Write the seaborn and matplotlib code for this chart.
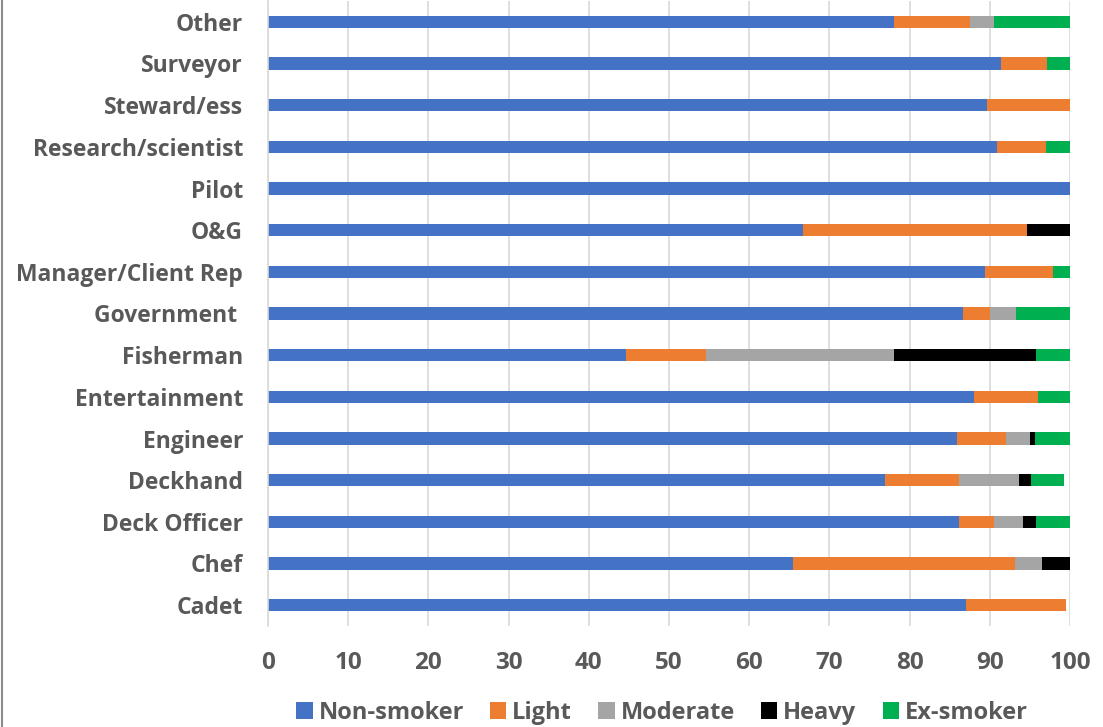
import matplotlib
matplotlib.use("Agg")
import matplotlib.pyplot as plt
from matplotlib.lines import Line2D
from matplotlib.patches import Patch
import numpy as np
import pandas as pd
import seaborn as sns

# Occupations, listed top to bottom
occupations = ["Other", "Surveyor", "Steward/ess", "Research/scientist", "Pilot",
               "O&G", "Manager/Client Rep", "Government ", "Fisherman",
               "Entertainment", "Engineer", "Deckhand", "Deck Officer", "Chef", "Cadet"]

# Smoking status shares (%) per occupation
non_smoker = [78.1, 91.4, 89.6, 90.9, 100.0, 66.7, 89.4, 86.7, 44.6, 88.0, 85.9, 76.9, 86.2, 65.5, 87.0]
light      = [9.4, 5.7, 10.4, 6.1, 0.0, 27.9, 8.5, 3.3, 10.0, 8.0, 6.1, 9.2, 4.3, 27.6, 12.5]
moderate   = [3.0, 0.0, 0.0, 0.0, 0.0, 0.0, 0.0, 3.3, 23.5, 0.0, 3.0, 7.5, 3.6, 3.4, 0.0]
heavy      = [0.0, 0.0, 0.0, 0.0, 0.0, 5.4, 0.0, 0.0, 17.6, 0.0, 0.6, 1.5, 1.7, 3.5, 0.0]
ex_smoker  = [9.5, 2.9, 0.0, 3.0, 0.0, 0.0, 2.1, 6.7, 4.3, 4.0, 4.4, 4.2, 4.2, 0.0, 0.0]

series_names = ["Non-smoker", "Light", "Moderate", "Heavy", "Ex-smoker"]
series_colors = ["#4472C4", "#ED7D31", "#A5A5A5", "#000000", "#00B050"]
x_ticks = [0, 10, 20, 30, 40, 50, 60, 70, 80, 90, 100]

df = pd.DataFrame({"Occupation": occupations,
                   "Non-smoker": non_smoker, "Light": light, "Moderate": moderate,
                   "Heavy": heavy, "Ex-smoker": ex_smoker})
cum = df[series_names].cumsum(axis=1)

sns.set_theme(style="white")
plt.rcParams["font.family"] = ["Open Sans", "DejaVu Sans"]
text_color = "#595959"

fig = plt.figure(figsize=(11.03, 7.27), dpi=100)
ax = fig.add_axes([268 / 1103, 1 - 626 / 727, (1070 - 268) / 1103, 625 / 727])

# Stack by drawing cumulative totals from the last series back to the first
for name, color in reversed(list(zip(series_names, series_colors))):
    sns.barplot(x=cum[name], y=df["Occupation"], orient="h", color=color,
                width=0.3, saturation=1, linewidth=0, ax=ax)

ax.set_xlim(0, 100)
ax.set_xticks(x_ticks)
ax.set_xlabel("")
ax.set_ylabel("")
ax.grid(axis="x", color="#D9D9D9", linewidth=1.2)
ax.set_axisbelow(True)
for side in ["top", "right", "bottom"]:
    ax.spines[side].set_visible(False)
ax.spines["left"].set_color("#D9D9D9")
ax.spines["left"].set_linewidth(1.2)

ax.tick_params(axis="y", length=0, pad=18, labelsize=16.5, labelcolor=text_color)
ax.tick_params(axis="x", length=0, pad=18, labelsize=17.5, labelcolor=text_color)
for lbl in ax.get_yticklabels() + ax.get_xticklabels():
    lbl.set_fontweight("bold")

handles = [Patch(facecolor=c, edgecolor="none") for c in series_colors]
leg = fig.legend(handles, series_names, loc="center", ncol=5,
                 bbox_to_anchor=(662 / 1103, 1 - 713 / 727), frameon=False,
                 handlelength=0.7, handleheight=0.7, handletextpad=0.25,
                 columnspacing=1.1, prop={"size": 17, "weight": "bold"})
for t in leg.get_texts():
    t.set_color(text_color)

fig.add_artist(Line2D([1.5 / 1103, 1.5 / 1103], [0, 1], transform=fig.transFigure,
                      color="#8C8C8C", linewidth=1.5))

fig.savefig("out.png", dpi=100)
